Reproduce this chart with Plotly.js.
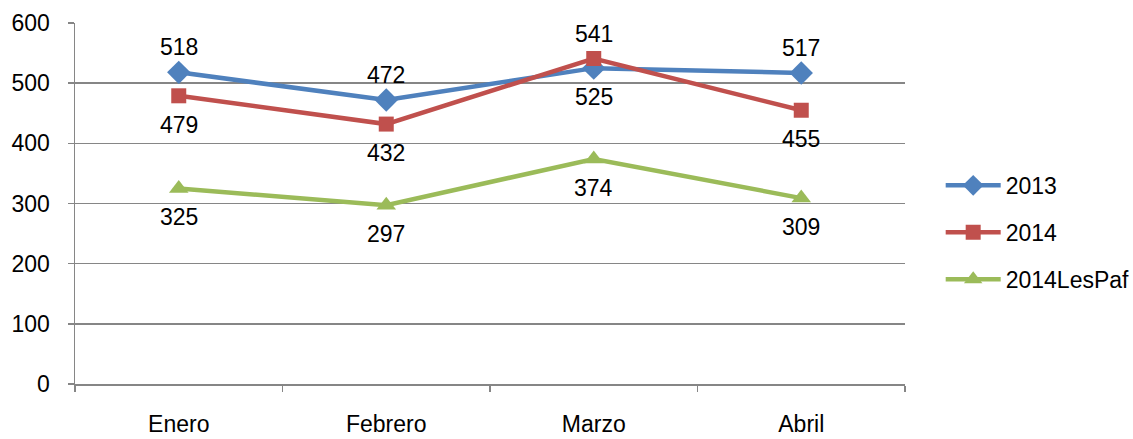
<!DOCTYPE html>
<html>
<head>
<meta charset="utf-8">
<script src="https://cdn.plot.ly/plotly-3.0.1.min.js"></script>
<style>html,body{margin:0;padding:0;background:#fff;}#chart{width:1133px;height:439px;}</style>
</head>
<body>
<div id="chart"></div>
<script>
const categories = ["Enero", "Febrero", "Marzo", "Abril"];
const seriesNames = ["2013", "2014", "2014LesPaf"];
const values2013 = [518, 472, 525, 517];
const values2014 = [479, 432, 541, 455];
const valuesLesPaf = [325, 297, 374, 309];
const yTicks = [0, 100, 200, 300, 400, 500, 600];

const FONT = "Liberation Sans, Arial, sans-serif";
const FS = 23;
const mk = (name, y, color, symbol, size) => ({
  type: "scatter", mode: "lines+markers", name: name,
  x: categories, y: y,
  line: {color: color, width: 4.5},
  marker: {color: color, symbol: symbol, size: size},
  legendgroup: name, cliponaxis: false, hoverinfo: "skip"
});

const traces = [
  mk(seriesNames[0], values2013, "#4F81BD", "diamond", 18),
  mk(seriesNames[1], values2014, "#C0504D", "square", 15),
  mk(seriesNames[2], valuesLesPaf, "#9BBB59", "triangle-up", 17)
];

// label placement: +1 above the point, -1 below
const place2013 = [1, 1, -1, 1];
const place2014 = [-1, -1, 1, -1];
const placeLesPaf = [-1, -1, -1, -1];

const annotations = [];
[[values2013, place2013], [values2014, place2014], [valuesLesPaf, placeLesPaf]].forEach(([vals, pl]) => {
  vals.forEach((v, i) => {
    annotations.push({
      x: categories[i], y: v, xref: "x", yref: "y", text: String(v),
      showarrow: false, yshift: pl[i] > 0 ? 25 : -29,
      font: {family: FONT, size: FS, color: "#000"}
    });
  });
});

const layout = {
  width: 1133, height: 439,
  margin: {l: 75, r: 228, t: 23, b: 55, autoexpand: false},
  paper_bgcolor: "#fff", plot_bgcolor: "#fff",
  font: {family: FONT, size: FS, color: "#000"},
  showlegend: true,
  annotations: annotations,
  legend: {x: 1.043, xanchor: "left", y: 0.42, yanchor: "middle",
           font: {family: FONT, size: FS, color: "#000"},
           itemwidth: 55, tracegroupgap: 14, bgcolor: "rgba(0,0,0,0)"},
  xaxis: {type: "category", range: [-0.5, 3.5], showgrid: false, automargin: false,
          showline: true, linecolor: "#868686", linewidth: 1.5,
          ticks: "outside", tickson: "boundaries", ticklen: 6, tickcolor: "#868686", tickwidth: 1.5,
          ticklabelstandoff: 19, tickfont: {family: FONT, size: FS, color: "#000"}, fixedrange: true},
  yaxis: {range: [0, 600], tickvals: yTicks, showgrid: true, gridcolor: "#868686", gridwidth: 1.5,
          showline: true, linecolor: "#868686", linewidth: 1.5, zeroline: false, automargin: false,
          ticks: "outside", ticklen: 6, tickcolor: "#868686", tickwidth: 1.5,
          ticklabelstandoff: 13, tickfont: {family: FONT, size: FS, color: "#000"}, fixedrange: true}
};

Plotly.newPlot("chart", traces, layout, {staticPlot: true, displayModeBar: false});
</script>
</body>
</html>
